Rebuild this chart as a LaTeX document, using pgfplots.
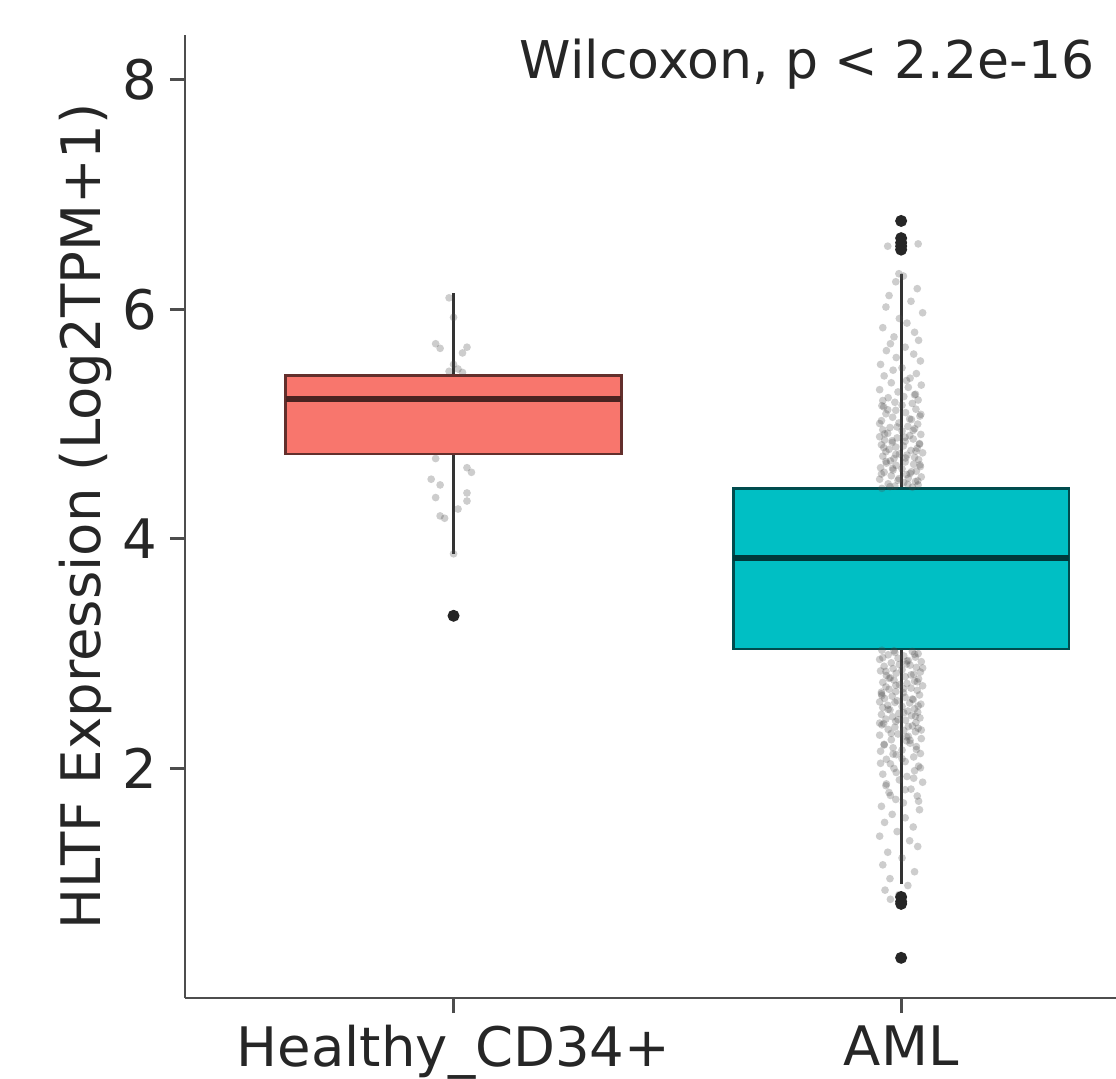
\documentclass[border=0pt]{standalone}
\usepackage{fontspec}
\setmainfont{DejaVu Sans}
\usepackage{pgfplots}
\pgfplotsset{compat=1.18}
\usepgfplotslibrary{statistics}
\definecolor{hred}{HTML}{F8766D}
\definecolor{hteal}{HTML}{00BFC4}
\definecolor{axgray}{HTML}{4D4D4D}

\begin{document}
\begin{tikzpicture}
\begin{axis}[
  scale only axis, width=9.31cm, height=9.63cm,
  xmin=0.4, xmax=2.48, ymin=0, ymax=8.39,
  axis lines*=left,
  axis line style={axgray, line width=0.8pt},
  tick align=outside, tick pos=left,
  major tick length=0.15cm,
  tick style={axgray, line width=0.8pt},
  xtick={1,2}, xticklabels={Healthy\_CD34+, AML},
  ytick={2,4,6,8},
  /pgf/number format/assume math mode=true,
  tick label style={font=\fontsize{15.5}{18}\selectfont, text=black!85},
  ylabel={HLTF Expression (Log2TPM+1)},
  ylabel style={font=\fontsize{15.5}{18}\selectfont, text=black!85,
    at={(axis description cs:-0.1074,0.5)}, anchor=center},
  boxplot/draw direction=y,
  clip=false,
]
\coordinate (bl) at (rel axis cs:0,0);
\coordinate (tr) at (rel axis cs:1,1);

% jittered samples, Healthy_CD34+
\addplot[only marks, mark=*, mark size=1.1pt,
  mark options={draw=black!70, draw opacity=0, fill=black!70, fill opacity=0.28}] coordinates {
(0.99,6.10) (1.00,5.93) (0.96,5.70) (0.97,5.66) (1.03,5.67) (1.02,5.62)
(1.00,5.52) (1.01,5.48) (0.99,5.46) (1.02,5.45) (0.96,4.70) (1.03,4.62)
(1.04,4.58) (0.95,4.52) (0.97,4.47) (1.03,4.40) (0.96,4.36) (1.03,4.33)
(0.97,4.20) (0.98,4.18) (1.01,4.26) (1.00,3.87) (1.00,3.33)
};

% jittered samples, AML
\addplot[only marks, mark=*, mark size=1.1pt,
  mark options={draw=black!70, draw opacity=0, fill=black!70, fill opacity=0.28}] coordinates {
(1.957,4.44) (2.025,4.45) (1.986,4.46) (2.038,4.47) (1.971,4.48) (2.006,4.49) (2.032,4.50) (1.993,4.51) (1.952,4.52) (2.016,4.53) (2.045,4.54) (1.978,4.55) (2.012,4.56)
(2.020,4.57) (1.962,4.58) (2.034,4.59) (1.982,4.60) (2.002,4.61) (1.954,4.62) (2.043,4.63) (1.989,4.64) (2.028,4.65) (1.967,4.66) (2.009,4.67) (1.976,4.68) (2.039,4.69)
(1.984,4.70) (2.030,4.71) (1.959,4.72) (2.013,4.73) (1.996,4.74) (2.048,4.75) (1.966,4.76) (2.022,4.77) (1.973,4.78) (2.036,4.79) (1.988,4.80) (2.005,4.81) (1.956,4.82)
(2.041,4.83) (1.980,4.84) (2.009,4.85) (1.963,4.86) (2.027,4.87) (1.991,4.88) (1.952,4.89) (2.019,4.90) (2.044,4.91) (1.970,4.92) (2.002,4.94) (1.959,4.95) (2.030,4.96)
(1.975,4.97) (2.015,4.98) (2.037,5.00) (1.995,5.01) (1.956,5.03) (2.023,5.04) (1.981,5.06) (2.042,5.07) (1.966,5.09) (2.010,5.10) (1.988,5.12) (2.033,5.13) (1.961,5.15)
(1.957,5.16) (2.025,5.18) (1.986,5.19) (2.038,5.21) (1.971,5.23) (2.006,5.24) (2.032,5.26) (1.993,5.28) (1.952,5.30) (2.016,5.32) (2.045,5.34) (1.978,5.36) (2.012,5.38)
(2.020,5.40) (1.962,5.42) (2.034,5.44) (1.982,5.47) (2.002,5.49) (1.954,5.52) (2.043,5.55) (1.989,5.58) (2.028,5.61) (1.967,5.64) (2.009,5.67) (1.976,5.70) (2.039,5.73)
(1.984,5.76) (2.030,5.80) (1.959,5.84) (2.013,5.88) (1.996,5.92) (2.048,5.97) (1.966,6.02) (2.022,6.07) (1.973,6.12) (2.036,6.18) (1.988,6.24) (2.005,6.29) (1.995,6.31)
(1.975,4.455) (2.015,4.475) (2.037,4.505) (1.995,4.525) (1.956,4.565) (2.023,4.585) (1.981,4.615) (2.042,4.645) (1.966,4.675) (2.010,4.705) (1.988,4.735) (2.033,4.765) (1.961,4.795)
(2.041,4.825) (1.980,4.855) (2.009,4.885) (1.963,4.915) (2.027,4.945) (1.991,4.975) (1.952,5.005) (2.019,5.045) (2.044,5.085) (1.970,5.125) (2.002,5.165) (1.959,5.205) (2.030,5.255)
(1.970,6.55) (2.038,6.57) (2.000,6.62) (1.995,6.52) (2.000,6.77)
(1.957,3.03) (2.025,3.02) (1.986,3.01) (2.038,3.00) (1.971,2.99) (2.006,2.98) (2.032,2.97) (1.993,2.96) (1.952,2.95) (2.016,2.94) (2.045,2.93) (1.978,2.92) (2.012,2.91)
(2.020,2.90) (1.962,2.89) (2.034,2.88) (1.982,2.87) (2.002,2.86) (1.954,2.85) (2.043,2.84) (1.989,2.83) (2.028,2.82) (1.967,2.81) (2.009,2.80) (1.976,2.79) (2.039,2.78)
(1.984,2.77) (2.030,2.76) (1.959,2.75) (2.013,2.74) (1.996,2.73) (2.048,2.72) (1.966,2.71) (2.022,2.70) (1.973,2.69) (2.036,2.68) (1.988,2.67) (2.005,2.66) (1.956,2.65)
(2.041,2.64) (1.980,2.63) (2.009,2.62) (1.963,2.61) (2.027,2.60) (1.991,2.59) (1.952,2.58) (2.019,2.57) (2.044,2.56) (1.970,2.55) (2.002,2.54) (1.959,2.53) (2.030,2.52)
(1.975,2.51) (2.015,2.50) (2.037,2.49) (1.995,2.48) (1.956,2.47) (2.023,2.46) (1.981,2.45) (2.042,2.44) (1.966,2.43) (2.010,2.42) (1.988,2.41) (2.033,2.40) (1.961,2.39)
(1.957,2.38) (2.025,2.37) (1.986,2.36) (2.038,2.35) (1.971,2.34) (2.006,2.33) (2.032,2.32) (1.993,2.30) (1.952,2.29) (2.016,2.28) (2.045,2.26) (1.978,2.25) (2.012,2.24)
(2.020,2.22) (1.962,2.21) (2.034,2.19) (1.982,2.18) (2.002,2.16) (1.954,2.15) (2.043,2.13) (1.989,2.12) (2.028,2.10) (1.967,2.08) (2.009,2.06) (1.976,2.04) (2.039,2.02)
(1.984,2.00) (2.030,1.98) (1.959,1.95) (2.013,1.93) (1.996,1.90) (2.048,1.88) (1.966,1.85) (2.022,1.82) (1.973,1.79) (2.036,1.76) (1.988,1.73) (2.005,1.70) (1.956,1.67)
(2.041,1.64) (1.980,1.60) (2.009,1.57) (1.963,1.53) (2.027,1.49) (1.991,1.45) (1.952,1.41) (2.019,1.37) (2.037,1.32) (1.970,1.27) (2.002,1.22) (1.959,1.16) (2.030,1.10)
(1.975,1.04) (2.015,0.98) (1.964,0.94) (1.995,0.90) (1.995,0.88) (2.003,0.84) (1.976,0.86) (2.000,0.35)
(1.984,3.025) (2.030,2.995) (1.959,2.965) (2.013,2.935) (1.996,2.905) (2.048,2.875) (1.966,2.845) (2.022,2.815) (1.973,2.785) (2.036,2.755) (1.988,2.725) (2.005,2.695) (1.956,2.665)
(1.957,2.635) (2.025,2.605) (1.986,2.575) (2.038,2.545) (1.971,2.515) (2.006,2.485) (2.032,2.455) (1.993,2.425) (1.952,2.395) (2.016,2.365) (2.045,2.335) (1.978,2.305) (2.012,2.275)
(2.020,2.245) (1.962,2.205) (2.034,2.165) (1.982,2.125) (2.002,2.085) (1.954,2.045) (2.043,2.005) (1.989,1.965) (2.028,1.915) (1.967,1.865) (2.009,1.815) (1.976,1.765) (2.039,1.715)
};

% boxes
\addplot[boxplot prepared={draw position=1, lower whisker=3.87,
    lower quartile=4.74, median=5.22, upper quartile=5.42,
    upper whisker=6.14, box extend=0.75, whisker extend=0},
  boxplot/every median/.style={draw=hred!30!black, line width=1.7pt},
  boxplot/every whisker/.style={draw=black!80, line width=0.8pt},
  fill=hred, draw=hred!40!black, line width=0.8pt] coordinates {};
\addplot[boxplot prepared={draw position=2, lower whisker=0.99,
    lower quartile=3.04, median=3.83, upper quartile=4.44,
    upper whisker=6.31, box extend=0.75, whisker extend=0},
  boxplot/every median/.style={draw=hteal!30!black, line width=1.7pt},
  boxplot/every whisker/.style={draw=black!80, line width=0.8pt},
  fill=hteal, draw=hteal!40!black, line width=0.8pt] coordinates {};

% outliers
\addplot[only marks, mark=*, mark size=1.5pt,
  mark options={draw=black!85, fill=black!85}] coordinates {
(1,3.33) (2,6.77) (2,6.62) (2,6.58) (2,6.55) (2,6.52)
(2,0.88) (2,0.84) (2,0.82) (2,0.35)
};

\node[font=\fontsize{14.8}{17}\selectfont, text=black!85] at (axis cs:1.79,8.14)
  {Wilcoxon, p < 2.2e-16};
\end{axis}
\pgfresetboundingbox
\path[use as bounding box] ([xshift=-1.85cm,yshift=-0.80cm]bl) rectangle ([yshift=0.35cm]tr);
\end{tikzpicture}
\end{document}
